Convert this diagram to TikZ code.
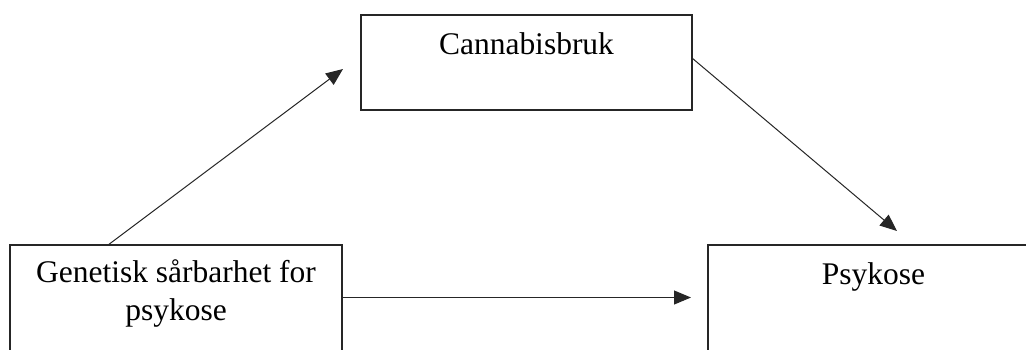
\documentclass[tikz,border=0pt]{standalone}
\usepackage{fontspec}
\setmainfont{Liberation Serif}
\usetikzlibrary{arrows.meta}
\begin{document}
\begin{tikzpicture}[x=1pt,y=-1pt,
  box/.style={draw=black!85, line width=1.1pt, inner sep=0pt},
  lbl/.style={anchor=base, inner sep=0pt, font=\fontsize{31.5}{38}\selectfont, align=center},
  conn/.style={draw=black!85, line width=1pt, -{Triangle[length=17pt,width=14pt]}}]
\useasboundingbox (0,0) rectangle (1026,349);
\clip (0,0) rectangle (1026,349);
\fill[white] (0,0) rectangle (1026,349);
% boxes
\node[box, minimum width=331pt, minimum height=95pt] (can) at (526.5,62.5) {};
\node[box, minimum width=332pt, minimum height=130pt] (gen) at (176,310) {};
\node[box, minimum width=332pt, minimum height=130pt] (psy) at (874,310) {};
% labels
\node[lbl] (cant) at (526.5,54) {Cannabisbruk};
\node[lbl, anchor=north] (gent) at (176,259) {Genetisk sårbarhet for\\psykose};
\node[lbl] (psyt) at (873.5,284) {Psykose};
% connector ends
\coordinate (a1s) at (108,245);
\coordinate (a1e) at (343,69);
\coordinate (a2s) at (692,58);
\coordinate (a2e) at (897,231);
\coordinate (a3s) at (342,297.5);
\coordinate (a3e) at (691,297.5);
\draw[conn] (a1s) -- (a1e);
\draw[conn] (a2s) -- (a2e);
\draw[conn] (a3s) -- (a3e);
\end{tikzpicture}
\end{document}
